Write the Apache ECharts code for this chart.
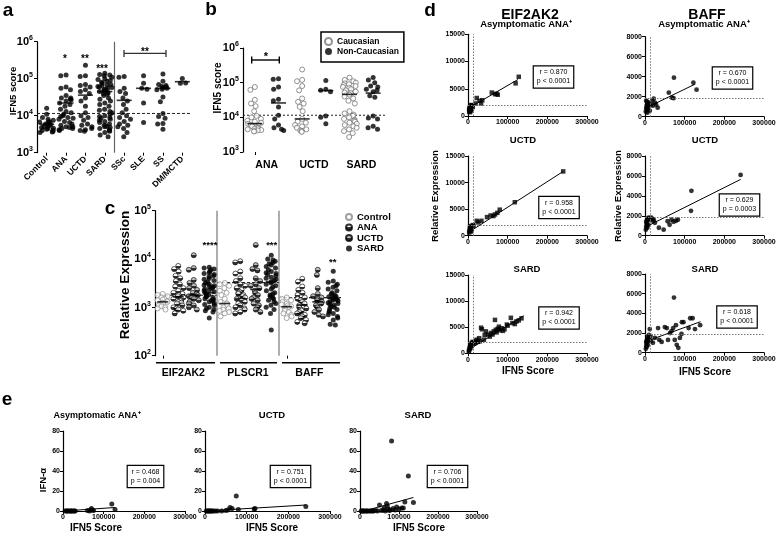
<!DOCTYPE html>
<html><head><meta charset="utf-8">
<script src="https://cdn.jsdelivr.net/npm/echarts@6/dist/echarts.min.js"></script>
<style>html,body{margin:0;padding:0;background:#fff}#c{width:778px;height:536px}</style>
</head><body><div id="c"></div>
<script>
const FONT = '"Liberation Sans", Arial, Helvetica, sans-serif';

// ---------------- panel a : IFN5 score by group ----------------
const catsA = ['Control','ANA','UCTD','SARD','SSc','SLE','SS','DM/MCTD'];
const aControl = [16000,11000,9000,8000,7500,7000,6800,6500,6200,6000,5900,5800,5500,5300,5000,4800,4600,4500,4300,4100,4000,3800,3600,3500];
const aANA = [125000,120000,60000,55000,50000,35000,30000,30000,28000,27000,25000,22000,20000,18000,15000,13000,12000,11000,10000,9500,9000,8500,8000,7000,6500,6000,5500,5000,5000,4800,4500,4500,4200,4000];
const aUCTD = [230000,120000,115000,70000,65000,60000,50000,45000,40000,30000,25000,18000,12000,10000,9000,7500,6000,5500,5000,4500,4200,4000,3800];
const aSARD = [140000,130000,125000,120000,110000,100000,95000,90000,85000,80000,75000,70000,68000,65000,62000,60000,58000,55000,52000,50000,48000,45000,42000,40000,38000,35000,30000,28000,25000,22000,20000,18000,15000,14000,13000,12000,11000,10000,9500,9000,8500,8000,7500,7000,6500,6000,5500,5200,5000,4800,4500,4200,4000,3800,3500,3000,2700];
const aSSc = [115000,110000,55000,45000,40000,30000,25000,20000,15000,12000,10000,9000,8000,7000,6000,5500,5000,4500,3500,2700];
const aSLE = [120000,75000,55000,52000,22000,6500];
const aSS = [135000,85000,70000,65000,62000,60000,58000,55000,52000,50000,32000,24000,11500,9500,8500,6200,6000,4300];
const aDM = [102000,75000,76000];
const meansA = [5900,22000,36000,45000,26000,55000,55000,83000];
const thrIFN = 11500;

// ---------------- panel b : by ethnicity ----------------
const catsB = ['ANA Caucasian','ANA Non-Caucasian','UCTD Caucasian','UCTD Non-Caucasian','SARD Caucasian','SARD Non-Caucasian'];
const labelsB = ['ANA','UCTD','SARD'];
const bANA_C = [75000,62000,32000,25000,21000,15000,11000,10000,9000,8000,7500,7000,6500,6000,5800,5500,5200,5000,4800,4600,4500,4300,4200,4000,3900];
const bANA_N = [130000,125000,75000,65000,33000,30000,20000,11500,9000,6000,5000,4500,4200];
const bUCTD_C = [240000,120000,110000,80000,60000,35000,28000,25000,20000,15000,9000,7500,7000,6000,5500,5000,4500,4200,4000,3800];
const bUCTD_N = [115000,65000,60000,55000,11000,10000,6500];
const bSARD_C = [140000,120000,110000,100000,95000,90000,85000,80000,75000,70000,65000,60000,55000,52000,50000,45000,40000,35000,30000,25000,15000,13000,12000,11000,10000,9000,8500,8000,7500,7000,6500,6000,5500,5000,4500,4000,3500,2700];
const bSARD_N = [140000,120000,100000,80000,75000,65000,60000,55000,42000,38000,11000,9500,9000,5500,5000,4500];
const meansB = [6600,26000,9000,59000,46000,50000];

// ---------------- panel c : gene expression ----------------
const genesC = ['EIF2AK2','PLSCR1','BAFF'];
const groupsC = ['Control','ANA','UCTD','SARD'];
const catsC = ['EIF2AK2 Control','EIF2AK2 ANA','EIF2AK2 UCTD','EIF2AK2 SARD','PLSCR1 Control','PLSCR1 ANA','PLSCR1 UCTD','PLSCR1 SARD','BAFF Control','BAFF ANA','BAFF UCTD','BAFF SARD'];
const cEIF_Control = [1900,1800,1700,1600,1500,1450,1400,1350,1300,1250,1200,1150,1100,1050,1000,950,900];
const cEIF_ANA = [7200,6200,5500,4500,4000,3500,3000,2700,2500,2200,2000,1900,1800,1700,1600,1500,1400,1350,1300,1250,1200,1100,1000,950,900,850,750];
const cEIF_UCTD = [12000,6500,6000,3700,3200,2800,2500,2300,2000,1900,1800,1700,1600,1500,1400,1300,1200,1100,1000,900];
const cEIF_SARD = [6800,6500,6200,6000,5500,5200,5000,4800,4500,4300,4000,3800,3600,3400,3200,3000,2900,2800,2700,2600,2500,2400,2300,2200,2100,2000,1900,1800,1700,1650,1600,1500,1450,1400,1350,1300,1200,1150,1100,1000,950,900,850,800,600];
const cPLS_Control = [3200,3000,2800,2500,2200,2000,1800,1500,1300,1200,1100,1000,950,900,850,800,750,650];
const cPLS_ANA = [9000,8500,5500,5000,4000,3500,3000,2800,2500,2300,2100,2000,1900,1800,1700,1600,1500,1400,1300,1200,1100,1000,950,900,800,750];
const cPLS_UCTD = [19500,7500,6200,5800,4000,3500,3000,2800,2500,2200,2000,1800,1600,1500,1400,1200,1100,1000,900,800];
const cPLS_SARD = [12000,10000,9500,9000,8500,8000,7500,7000,6500,6000,5500,5200,5000,4800,4500,4200,4000,3800,3600,3400,3200,3000,2800,2600,2400,2200,2000,1900,1800,1700,1600,1500,1400,1300,1200,1100,1000,900,750,340];
const cBAFF_Control = [1600,1500,1400,1300,1200,1150,1100,1050,1000,950,900,850,800,750,700,650,600];
const cBAFF_ANA = [3900,3400,2700,2300,2000,1800,1600,1500,1400,1300,1200,1100,1000,950,900,850,800,750,700,650,600,550,500,470];
const cBAFF_UCTD = [6000,4700,2500,1900,1700,1600,1500,1400,1300,1200,1100,1000,900,800,700,650];
const cBAFF_SARD = [5600,3500,3300,3000,2800,2600,2400,2200,2000,1900,1800,1700,1650,1600,1550,1500,1450,1400,1350,1300,1250,1200,1150,1100,1050,1000,950,900,850,800,750,700,650,600,550,450,430];
const dataC = [
  [cEIF_Control,cEIF_ANA,cEIF_UCTD,cEIF_SARD],
  [cPLS_Control,cPLS_ANA,cPLS_UCTD,cPLS_SARD],
  [cBAFF_Control,cBAFF_ANA,cBAFF_UCTD,cBAFF_SARD]
];
const meansC = [1300,1650,1800,2000, 1200,1530,2350,3400, 1030,1120,1300,1530];
const thrC = [1780,3240,1590];

// ---------------- panel d : expression vs IFN5 score ----------------
const dEIF_ANA = [[3000,800],[4000,1000],[5000,1200],[5000,700],[6000,1500],[7000,1300],[8000,1100],[8000,1600],[9000,1800],[10000,1400],[4000,1500],[6000,900],[12000,1700],[3000,1300],[7000,2000],[10000,2000],[19000,2300],[22000,3300],[29000,2800],[33000,2300],[36000,2900],[60000,4300],[68000,4000],[72000,4100],[75000,3900],[120000,6000],[128000,7200]];
const dBAFF_ANA = [[2000,500],[3000,800],[4000,1000],[5000,1200],[5000,1500],[6000,700],[7000,1300],[8000,900],[9000,1100],[10000,1400],[3000,1600],[12000,600],[15000,1200],[6000,400],[18000,1600],[22000,1800],[25000,1400],[28000,1200],[32000,900],[20000,1100],[60000,2400],[73000,3900],[68000,1900],[72000,1850],[122000,3400],[130000,2700]];
const dEIF_UCTD = [[3000,600],[4000,900],[5000,1200],[6000,1000],[7000,1500],[8000,1800],[9000,1300],[10000,1700],[12000,2000],[14000,1900],[5000,1600],[8000,800],[22000,2800],[26000,2500],[34000,2800],[48000,3500],[57000,3800],[64000,3700],[68000,4000],[74000,4300],[80000,4900],[118000,6300],[240000,12100]];
const dBAFF_UCTD = [[2000,600],[3000,900],[4000,1200],[5000,1500],[6000,800],[7000,1700],[8000,1100],[9000,1800],[10000,1600],[12000,1750],[14000,1700],[16000,1800],[18000,1650],[20000,1500],[22000,1600],[5000,1000],[3000,1400],[25000,1300],[35000,800],[47000,600],[57000,1450],[62000,1100],[67000,1600],[72000,1400],[78000,1500],[83000,1600],[117000,4500],[116000,2500],[241000,6100]];
const dEIF_SARD = [[2000,300],[3000,600],[4000,900],[5000,1200],[6000,1000],[7000,1500],[8000,1800],[9000,1400],[10000,2000],[11000,1700],[12000,2200],[13000,1900],[15000,2100],[18000,2000],[20000,2400],[22000,2600],[25000,2200],[28000,2900],[30000,2300],[33000,4900],[35000,4600],[40000,2600],[42000,3500],[45000,4200],[50000,3600],[55000,3200],[58000,3900],[62000,3600],[65000,4200],[68000,6400],[70000,4500],[72000,4000],[75000,4700],[78000,5100],[80000,4400],[85000,4800],[88000,4300],[92000,4600],[98000,5500],[100000,5300],[108000,6800],[112000,5800],[118000,5600],[122000,6100],[128000,6300],[135000,6700]];
const dBAFF_SARD = [[2000,400],[3000,700],[4000,1000],[5000,1300],[6000,1600],[7000,800],[8000,1200],[9000,1500],[10000,1800],[3000,1100],[5000,600],[11000,1400],[14000,1700],[15000,1200],[12000,2400],[20000,1000],[25000,1500],[33000,2500],[36000,1300],[42000,1100],[50000,2600],[55000,2500],[58000,1300],[63000,2000],[67000,2200],[71000,2500],[73000,5600],[75000,1300],[78000,2800],[80000,800],[84000,500],[88000,1500],[92000,1900],[93000,3100],[97000,3100],[110000,2500],[114000,3500],[120000,3500],[126000,2400],[139000,2800]];
const fitD = [
  [[3000,1500],[126000,6700]],
  [[4000,900],[126000,3250]],
  [[3000,700],[240000,12100]],
  [[3000,900],[241000,5650]],
  [[2000,700],[140000,7200]],
  [[2500,1150],[140000,3150]]
];
const statsD = ['r = 0.870\np < 0.0001','r = 0.670\np < 0.0001','r = 0.958\np < 0.0001','r = 0.629\np = 0.0003','r = 0.942\np < 0.0001','r = 0.618\np < 0.0001'];
const dThrX = 13000, dThrEIF = 2050, dThrBAFF = 1880;

// ---------------- panel e : IFN-alpha vs IFN5 score ----------------
const eANA = [[5000,0],[8000,0],[10000,0],[12000,0],[15000,0],[18000,0],[20000,0],[22000,0],[25000,0],[28000,0],[30000,0],[60000,0.5],[65000,0],[68000,1],[70000,2.5],[72000,1],[75000,0.5],[120000,7],[128000,1.5]];
const eUCTD = [[3000,0],[5000,0],[7000,0],[9000,0],[11000,0],[13000,0],[15000,0],[18000,0],[20000,0],[25000,0],[30000,0],[40000,0],[50000,0.5],[55000,1],[60000,3.5],[65000,2.5],[75000,15],[80000,1.5],[118000,2],[120000,2.5],[242000,4.5]];
const eSARD = [[3000,0],[5000,0],[7000,0],[9000,0],[12000,0],[15000,0],[18000,0],[20000,0],[25000,0],[28000,0],[32000,0],[35000,0],[40000,0.5],[45000,0],[50000,6],[55000,0.5],[60000,1],[62000,3],[65000,0],[68000,7.5],[70000,5],[72000,2],[75000,0.5],[78000,1],[81000,70],[85000,2.5],[90000,1],[94000,4],[100000,2],[107000,3],[111000,3],[115000,9],[124000,35],[137000,8.5]];
const fitE = [[[2000,0],[128000,3.5]],[[2000,0],[242000,6]],[[10000,0],[137000,13.5]]];
const statsE = ['r = 0.468\np = 0.004','r = 0.751\np < 0.0001','r = 0.706\np < 0.0001'];

// ================= build option =================
const chart = echarts.init(document.getElementById('c'), null, {renderer:'canvas'});

const grids = [
  {left:37, top:41.7, width:155, height:111},
  {left:243, top:48, width:142, height:104},
  {left:155, top:210.7, width:186, height:145},
  {left:468, top:34.3, width:119, height:81.7},
  {left:645, top:36.7, width:119, height:80},
  {left:468, top:156, width:119, height:79.7},
  {left:645, top:156, width:119, height:79.7},
  {left:468, top:275, width:119, height:78.3},
  {left:645, top:274, width:119, height:78.7},
  {left:63, top:431, width:122, height:80},
  {left:205, top:431, width:125, height:80},
  {left:360, top:431, width:117, height:80}
].map(g => Object.assign({containLabel:false, outerBoundsMode:'none'}, g));

const lineAx = {show:true, onZero:false, lineStyle:{color:'#000', width:1.2}};
const tickAx = {show:true, length:3, lineStyle:{color:'#000', width:1}};
const plain = v => String(v);
const lab = (fs, extra) => Object.assign({color:'#000', fontWeight:'bold', fontFamily:FONT, fontSize:fs, margin:3}, extra||{});
const logLab = (fs) => ({
  margin:4,
  formatter: v => '{b|10}{s|' + Math.round(Math.log10(v)) + '}',
  rich:{
    b:{fontSize:fs, fontWeight:'bold', fontFamily:FONT, color:'#000', lineHeight:fs+3},
    s:{fontSize:Math.round(fs*0.62), fontWeight:'bold', fontFamily:FONT, color:'#000', verticalAlign:'top', lineHeight:fs+3}
  }
});

const xAxis = [
  {gridIndex:0, type:'category', data:catsA, jitter:15, jitterOverlap:false, jitterMargin:0.3,
   axisLine:{show:false}, axisTick:Object.assign({alignWithLabel:true}, tickAx), splitLine:{show:false},
   axisLabel:lab(8.5, {rotate:45, margin:5, interval:0})},
  {gridIndex:0, type:'value', min:0, max:8, show:false},
  {gridIndex:1, type:'category', data:catsB, jitter:15, jitterOverlap:false, jitterMargin:0.3,
   axisLine:{show:false}, axisTick:Object.assign({alignWithLabel:true}, tickAx), axisLabel:{show:false}, splitLine:{show:false}},
  {gridIndex:1, type:'category', data:labelsB, position:'bottom', axisLine:{show:false}, axisTick:{show:false},
   axisLabel:lab(10.5, {margin:8}), splitLine:{show:false}},
  {gridIndex:1, type:'value', min:0, max:6, show:false},
  {gridIndex:2, type:'category', data:catsC, jitter:13, jitterOverlap:false, jitterMargin:0.2,
   axisLine:{show:false}, axisTick:Object.assign({alignWithLabel:true}, tickAx), axisLabel:{show:false}, splitLine:{show:false}},
  {gridIndex:2, type:'value', min:0, max:12, show:false}
];
for (let i = 0; i < 9; i++) {
  xAxis.push({gridIndex:3+i, type:'value', min:0, max:300000, interval:100000,
    axisLine:lineAx, axisTick:tickAx, splitLine:{show:false}, axisLabel:lab(7, {margin:3, formatter:plain})});
}
const yAxis = [
  {gridIndex:0, type:'log', logBase:10, min:1000, max:1e6, axisLine:lineAx, axisTick:tickAx, splitLine:{show:false}, axisLabel:logLab(11)},
  {gridIndex:1, type:'log', logBase:10, min:1000, max:1e6, axisLine:lineAx, axisTick:tickAx, splitLine:{show:false}, axisLabel:logLab(11)},
  {gridIndex:2, type:'log', logBase:10, min:100, max:1e5, axisLine:lineAx, axisTick:tickAx, splitLine:{show:false}, axisLabel:logLab(11.5)}
];
const dMax = [15000,8000,15000,8000,15000,8000];
dMax.forEach((m, i) => yAxis.push({gridIndex:3+i, type:'value', min:0, max:m, interval:m===15000?5000:2000,
  axisLine:lineAx, axisTick:tickAx, splitLine:{show:false}, axisLabel:lab(7, {formatter:plain})}));
for (let i = 0; i < 3; i++) yAxis.push({gridIndex:9+i, type:'value', min:0, max:80, interval:20,
  axisLine:lineAx, axisTick:tickAx, splitLine:{show:false}, axisLabel:lab(7, {formatter:plain})});

const series = [];
const blackDot = {color:'#000'};
const meanSeries = (xi, yi, means, w) => ({type:'scatter', xAxisIndex:xi, yAxisIndex:yi, symbol:'rect', symbolSize:[w,1.6],
  data: means.map((m,i)=>[i+0.5, m]), itemStyle:{color:'#000'}, z:5, silent:true});
const segSeries = (xi, yi, pts, style) => ({type:'line', xAxisIndex:xi, yAxisIndex:yi, data:pts, symbol:'none',
  lineStyle:style, z:1, silent:true});

// panel a
const groupsA = [aControl,aANA,aUCTD,aSARD,aSSc,aSLE,aSS,aDM];
series.push({name:'a', type:'scatter', xAxisIndex:0, yAxisIndex:0, symbolSize:5,
  data: groupsA.flatMap((arr,i)=>arr.map(v=>[i,v])), itemStyle:blackDot, z:3});
series.push(meanSeries(1, 0, meansA, 15));
series.push(segSeries(1, 0, [[4,1000],[4,1e6]], {color:'#666', width:1.2}));
series.push(segSeries(1, 0, [[0,thrIFN],[8,thrIFN]], {color:'#222', width:1, type:[3,2]}));

// panel b
const groupsB = [bANA_C,bANA_N,bUCTD_C,bUCTD_N,bSARD_C,bSARD_N];
series.push({name:'Caucasian', type:'scatter', xAxisIndex:2, yAxisIndex:1, symbolSize:5,
  data:[0,2,4].flatMap(i=>groupsB[i].map(v=>[i,v])), itemStyle:{color:'#fff', borderColor:'#777', borderWidth:1}, z:3});
series.push({name:'Non-Caucasian', type:'scatter', xAxisIndex:2, yAxisIndex:1, symbolSize:5,
  data:[1,3,5].flatMap(i=>groupsB[i].map(v=>[i,v])), itemStyle:blackDot, z:3});
series.push(meanSeries(4, 1, meansB, 15));
series.push(segSeries(4, 1, [[0,thrIFN],[6,thrIFN]], {color:'#222', width:1, type:[2,2]}));

// panel c
const half = (top) => ({type:'linear', x:0, y:0, x2:0, y2:1, colorStops:[
  {offset:0, color:top},{offset:0.5, color:top},{offset:0.5, color:'#000'},{offset:1, color:'#000'}]});
const styleC = [
  {color:'#fff', borderColor:'#888', borderWidth:0.9},
  {color:half('#fff'), borderColor:'#000', borderWidth:0.8},
  {color:half('#aaa'), borderColor:'#000', borderWidth:0.8},
  {color:'#000'}
];
groupsC.forEach((g,k) => {
  series.push({name:g, type:'scatter', xAxisIndex:5, yAxisIndex:2, symbolSize:5,
    data: dataC.flatMap((gene, gi) => gene[k].map(v => [gi*4+k, v])), itemStyle:styleC[k], z:3});
});
series.push(meanSeries(6, 2, meansC, 11));
thrC.forEach((t,gi) => series.push(segSeries(6, 2, [[gi*4,t],[gi*4+4,t]], {color:'#222', width:1.2, type:[3,2]})));
series.push(segSeries(6, 2, [[4,100],[4,1e5]], {color:'#777', width:1.2}));
series.push(segSeries(6, 2, [[8,100],[8,1e5]], {color:'#777', width:1.2}));

// panel d
const dSets = [dEIF_ANA,dBAFF_ANA,dEIF_UCTD,dBAFF_UCTD,dEIF_SARD,dBAFF_SARD];
dSets.forEach((pts,i) => {
  const isEIF = i % 2 === 0;
  series.push({type:'scatter', xAxisIndex:7+i, yAxisIndex:3+i, symbol:isEIF?'rect':'circle', symbolSize:isEIF?4.5:4.8,
    data:pts, itemStyle:blackDot, z:3,
    markLine:{silent:true, symbol:'none', label:{show:false}, animation:false,
      lineStyle:{type:[1.5,1.5], color:'#777', width:1},
      data:[{xAxis:dThrX},{yAxis:isEIF?dThrEIF:dThrBAFF}]}});
  const s = segSeries(7+i, 3+i, fitD[i], {color:'#000', width:1}); s.z = 4;
  series.push(s);
});

// panel e
[eANA,eUCTD,eSARD].forEach((pts,i) => {
  series.push({type:'scatter', xAxisIndex:13+i, yAxisIndex:9+i, symbolSize:5, data:pts, itemStyle:blackDot, z:3});
  const s = segSeries(13+i, 9+i, fitE[i], {color:'#000', width:1}); s.z = 4;
  series.push(s);
});

// ---------------- text & decorations ----------------
const T = (x, y, text, size, o) => {
  o = o || {};
  return {type:'text', x, y, rotation:o.rot||0, z:100, silent:true,
    style:Object.assign({text, fill:'#000', font:(o.w||'bold')+' '+size+'px '+FONT,
      align:o.align||'center', verticalAlign:'middle'}, o.style||{})};
};
const L = (x1,y1,x2,y2,w,c) => ({type:'line', z:100, silent:true, shape:{x1,y1,x2,y2}, style:{stroke:c||'#000', lineWidth:w||1.2}});
const box = (x, y, text) => T(x, y, text, 7, {w:'normal', style:{borderColor:'#000', borderWidth:1.2,
  padding:[2,3,1,3], backgroundColor:'#fff', lineHeight:9}});

const ROT = Math.PI/2;
const graphic = [
  // panel letters
  T(8, 10.5, 'a', 19), T(211, 10, 'b', 19), T(110, 208.8, 'c', 19), T(430, 11, 'd', 19), T(7, 399.5, 'e', 19),
  // axis titles
  T(13, 91, 'IFN5 score', 9.5, {rot:ROT}),
  T(218, 88, 'IFN5 score', 10, {rot:ROT}),
  T(125, 275, 'Relative Expression', 13.5, {rot:ROT}),
  T(435, 196, 'Relative Expression', 9.7, {rot:ROT}),
  T(618, 196, 'Relative Expression', 9.7, {rot:ROT}),
  T(43, 480, 'IFN-α', 9.5, {rot:ROT}),
  T(528, 371.7, 'IFN5 Score', 10), T(705, 372, 'IFN5 Score', 10),
  T(96, 528, 'IFN5 Score', 10), T(272, 528, 'IFN5 Score', 10), T(419, 528, 'IFN5 Score', 10),
  // d / e titles
  T(530, 14.7, 'EIF2AK2', 14), T(707, 14.7, 'BAFF', 14),
  T(526, 24.7, 'Asymptomatic ANA⁺', 9.5), T(704, 24.7, 'Asymptomatic ANA⁺', 9.5),
  T(523, 140, 'UCTD', 9.5), T(705, 140, 'UCTD', 9.5),
  T(527, 269, 'SARD', 9.5), T(705, 269, 'SARD', 9.5),
  T(97, 415.5, 'Asymptomatic ANA⁺', 9), T(272, 415.5, 'UCTD', 9.5), T(418, 415.5, 'SARD', 9.5),
  // significance
  T(65, 59, '*', 10), T(85, 59, '**', 10), T(102, 69, '***', 10), T(145, 52, '**', 10),
  L(124,53.3,166,53.3,1.3,'#333'), L(124,50,124,57,1.3,'#333'), L(166,50,166,57,1.3,'#333'),
  T(266, 57, '*', 11),
  L(251.7,60,279.3,60,1.4), L(251.7,56.5,251.7,63.5,1.4), L(279.3,56.5,279.3,63.5,1.4),
  T(210, 245, '****', 9.5), T(271.7, 245, '***', 9.5), T(332.7, 262, '**', 9.5),
  // panel c gene groups
  L(156,362.7,215,362.7,1.6), L(220,362.7,277,362.7,1.6), L(282,362.7,340,362.7,1.6),
  T(183.3, 373.3, 'EIF2AK2', 10.5), T(248, 373.3, 'PLSCR1', 10.5), T(309.3, 373.3, 'BAFF', 10.5)
];
const boxD = [[553.5,77],[732.5,78],[559,207.5],[739.5,205],[559,318],[737,317]];
boxD.forEach((p,i) => graphic.push(box(p[0], p[1], statsD[i])));
const boxE = [[145.5,476.5],[290.5,476.5],[447.5,476.5]];
boxE.forEach((p,i) => graphic.push(box(p[0], p[1], statsE[i])));

const legendText = (fs) => ({fontSize:fs, fontWeight:'bold', fontFamily:FONT, color:'#000'});
const option = {
  animation:false,
  backgroundColor:'#fff',
  grid:grids, xAxis, yAxis, series, graphic,
  legend:[
    {data:['Caucasian','Non-Caucasian'], orient:'vertical', left:321, top:32, borderColor:'#000', borderWidth:1.5,
     padding:[5,5,6,3], itemGap:1, itemWidth:7, itemHeight:7, textStyle:legendText(8.5), selectedMode:false},
    {data:groupsC, orient:'vertical', left:345, top:212, padding:0, itemGap:0.5, itemWidth:6, itemHeight:6,
     textStyle:legendText(9.5), selectedMode:false}
  ]
};
chart.setOption(option);
</script></body></html>
